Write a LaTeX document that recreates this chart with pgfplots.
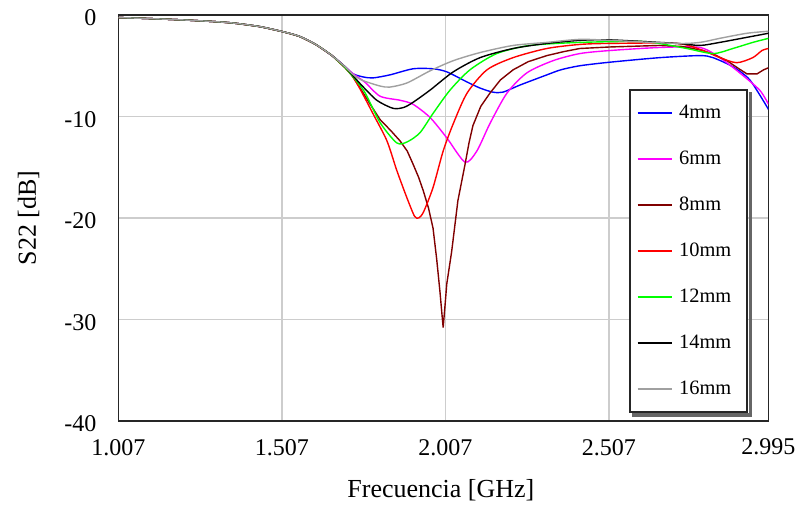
\documentclass[border=0pt]{standalone}
\usepackage{fontspec}
\setmainfont{Liberation Serif}
\usepackage{pgfplots}
\pgfplotsset{compat=1.18}
\definecolor{cblue}{RGB}{0,0,255}
\definecolor{cmag}{RGB}{255,0,255}
\definecolor{cdred}{RGB}{128,0,0}
\definecolor{cred}{RGB}{255,0,0}
\definecolor{cgreen}{RGB}{0,255,0}
\definecolor{cgray}{RGB}{160,160,160}
\definecolor{cgrid}{RGB}{205,205,205}
\begin{document}
\begin{tikzpicture}
\begin{axis}[
  at={(0,0)}, anchor=south west,
  scale only axis, width=325pt, height=203pt,
  xmin=1.007, xmax=2.995, ymin=-40, ymax=0,
  xtick={1.007,1.507,2.007,2.507,2.995},
  xticklabels={1.007,1.507,2.007,2.507,2.995},
  ytick={-40,-30,-20,-10,0},
  grid=major,
  major grid style={cgrid, line width=0.8pt},
  major tick length=0pt,
  axis line style={black!85, line width=0.9pt},
  /pgf/number format/assume math mode=true,
  ticklabel style={font=\fontsize{12}{14}\selectfont},
  xticklabel style={yshift=-5.5pt},
  yticklabel style={xshift=-7.5pt, yshift=-1.5pt},
  xlabel={Frecuencia [GHz]},
  ylabel={S22 [dB]},
  label style={font=\fontsize{13}{15}\selectfont},
  xlabel style={at={(axis description cs:0.496,0)}, anchor=center, yshift=-34.5pt},
  ylabel style={at={(axis description cs:0,0.5)}, anchor=center, yshift=45pt},
  legend cell align=left,
  legend image code/.code={\draw[#1] (0pt,0pt) -- (17pt,0pt);},
  legend style={name=leg, at={(rel axis cs:0.7854,0.8177)}, anchor=north west,
    draw=black!85, line width=0.8pt, fill=white,
    inner xsep=3.5pt, inner ysep=0pt, row sep=0pt, column sep=0pt,
    font=\fontsize{10.2}{12}\selectfont,
    nodes={inner sep=0pt, minimum height=23pt},
    /tikz/every odd column/.append style={column sep=3.5pt}},
  every axis plot/.append style={line width=0.7pt, smooth, tension=0.45},
]
% 4mm
\addplot[cblue] coordinates {
(1.007,-0.25)(1.1,-0.35)(1.2,-0.48)(1.3,-0.65)(1.36,-0.8)(1.44,-1.15)(1.51,-1.65)(1.56,-2.1)(1.61,-2.9)(1.66,-4.0)(1.70,-5.1)(1.725,-5.8)(1.755,-6.1)(1.785,-6.2)(1.837,-5.9)(1.908,-5.3)(1.969,-5.3)(2.011,-5.6)(2.073,-6.6)(2.113,-7.2)(2.152,-7.6)(2.183,-7.6)(2.235,-6.9)(2.317,-5.9)(2.36,-5.4)(2.418,-5.0)(2.51,-4.65)(2.663,-4.2)(2.785,-4.0)(2.825,-4.2)(2.886,-5.1)(2.938,-6.4)(2.995,-9.3)};
\addlegendentry{4mm\rule{9.5pt}{0pt}}
% 6mm
\addplot[cmag] coordinates {
(1.007,-0.25)(1.1,-0.35)(1.2,-0.48)(1.3,-0.65)(1.36,-0.8)(1.44,-1.15)(1.51,-1.65)(1.56,-2.1)(1.61,-2.9)(1.66,-4.0)(1.70,-5.1)(1.725,-5.8)(1.76,-6.6)(1.807,-8.0)(1.868,-8.4)(1.908,-8.8)(1.96,-10.1)(2.011,-12.1)(2.067,-14.5)(2.103,-13.4)(2.143,-10.7)(2.195,-7.7)(2.256,-5.7)(2.336,-4.5)(2.418,-3.8)(2.51,-3.5)(2.663,-3.2)(2.785,-3.2)(2.846,-4.2)(2.907,-5.7)(2.968,-7.4)(2.995,-8.8)};
\addlegendentry{6mm}
% 8mm
\addplot[cdred, sharp plot] coordinates {
(1.007,-0.25)(1.1,-0.35)(1.2,-0.48)(1.3,-0.65)(1.36,-0.8)(1.44,-1.15)(1.51,-1.65)(1.56,-2.1)(1.61,-2.9)(1.66,-4.0)(1.70,-5.2)(1.722,-6.0)(1.746,-7.2)(1.777,-8.8)(1.807,-10.3)(1.84,-11.4)(1.868,-12.4)(1.89,-13.4)(1.908,-14.7)(1.925,-16.0)(1.939,-17.3)(1.955,-19.0)(1.969,-21.0)(1.98,-24.0)(1.99,-27.2)(2.0,-30.8)(2.006,-28.5)(2.011,-26.5)(2.026,-23.3)(2.045,-18.3)(2.067,-14.7)(2.079,-12.6)(2.091,-10.9)(2.115,-9.0)(2.143,-7.7)(2.175,-6.4)(2.214,-5.4)(2.26,-4.6)(2.317,-4.0)(2.37,-3.6)(2.418,-3.3)(2.51,-3.15)(2.663,-3.0)(2.73,-3.1)(2.795,-3.5)(2.835,-4.0)(2.868,-4.5)(2.9,-5.2)(2.929,-5.8)(2.96,-5.8)(2.98,-5.4)(2.995,-5.2)};
\addlegendentry{8mm}
% 10mm
\addplot[cred] coordinates {
(1.007,-0.25)(1.1,-0.35)(1.2,-0.48)(1.3,-0.65)(1.36,-0.8)(1.44,-1.15)(1.51,-1.65)(1.56,-2.1)(1.61,-2.9)(1.66,-4.0)(1.70,-5.2)(1.722,-6.0)(1.746,-7.3)(1.785,-9.7)(1.828,-12.4)(1.858,-15.3)(1.889,-18.0)(1.912,-19.8)(1.925,-20.0)(1.94,-19.4)(1.969,-17.0)(2.0,-13.4)(2.031,-10.7)(2.073,-7.7)(2.134,-5.4)(2.214,-4.2)(2.317,-3.3)(2.418,-2.9)(2.51,-2.8)(2.715,-2.8)(2.795,-3.5)(2.846,-4.2)(2.898,-4.7)(2.947,-4.2)(2.975,-3.5)(2.995,-3.3)};
\addlegendentry{10mm}
% 12mm
\addplot[cgreen] coordinates {
(1.007,-0.25)(1.1,-0.35)(1.2,-0.48)(1.3,-0.65)(1.36,-0.8)(1.44,-1.15)(1.51,-1.65)(1.56,-2.1)(1.61,-2.9)(1.66,-4.0)(1.70,-5.2)(1.722,-6.0)(1.76,-7.6)(1.807,-10.6)(1.858,-12.6)(1.89,-12.5)(1.929,-11.6)(1.969,-9.7)(2.021,-7.4)(2.082,-5.4)(2.164,-3.8)(2.265,-3.0)(2.418,-2.7)(2.6,-2.6)(2.66,-2.8)(2.745,-3.3)(2.826,-3.8)(2.886,-3.3)(2.947,-2.7)(2.995,-2.3)};
\addlegendentry{12mm}
% 14mm
\addplot[black] coordinates {
(1.007,-0.25)(1.1,-0.35)(1.2,-0.48)(1.3,-0.65)(1.36,-0.8)(1.44,-1.15)(1.51,-1.65)(1.56,-2.1)(1.61,-2.9)(1.66,-4.0)(1.70,-5.1)(1.722,-5.9)(1.75,-6.9)(1.797,-8.4)(1.847,-9.2)(1.88,-9.1)(1.908,-8.6)(1.96,-7.4)(2.031,-5.6)(2.113,-4.2)(2.214,-3.3)(2.317,-2.8)(2.418,-2.5)(2.51,-2.45)(2.715,-2.8)(2.785,-3.0)(2.846,-2.7)(2.929,-2.2)(2.995,-1.8)};
\addlegendentry{14mm}
% 16mm
\addplot[cgray] coordinates {
(1.007,-0.25)(1.1,-0.35)(1.2,-0.48)(1.3,-0.65)(1.36,-0.8)(1.44,-1.15)(1.51,-1.65)(1.56,-2.1)(1.61,-2.9)(1.66,-4.0)(1.70,-5.1)(1.722,-5.8)(1.75,-6.4)(1.807,-7.0)(1.837,-7.1)(1.889,-6.7)(1.96,-5.5)(2.031,-4.5)(2.113,-3.7)(2.214,-3.0)(2.317,-2.7)(2.418,-2.4)(2.51,-2.5)(2.715,-2.8)(2.785,-2.7)(2.846,-2.3)(2.929,-1.8)(2.995,-1.6)};
\addlegendentry{16mm}
\end{axis}
\fill[black!60] ([xshift=0.4pt,yshift=-1.6pt]leg.north east) rectangle ([xshift=2pt,yshift=-2pt]leg.south east);
\fill[black!60] ([xshift=1.6pt,yshift=-0.4pt]leg.south west) rectangle ([xshift=2pt,yshift=-2pt]leg.south east);
\pgfresetboundingbox
\useasboundingbox (-59.25pt,-43.5pt) rectangle (340.25pt,210.5pt);
\end{tikzpicture}
\end{document}
